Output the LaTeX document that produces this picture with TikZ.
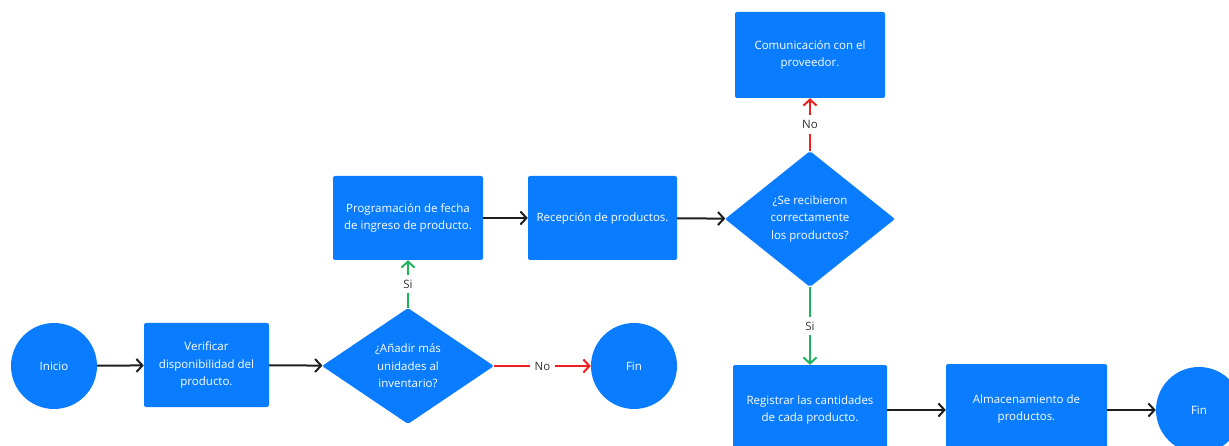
\documentclass[tikz,border=0pt]{standalone}
\usepackage{fontspec}
\setmainfont{Open Sans}
\usetikzlibrary{shapes.geometric,arrows.meta}
\definecolor{azul}{HTML}{0A7CFF}
\definecolor{rojo}{HTML}{F01E1E}
\definecolor{verde}{HTML}{1DB35C}
\definecolor{negro}{HTML}{1E1E1E}
\definecolor{gris}{HTML}{333333}
\tikzset{
	caja/.style={rectangle, fill=azul, rounded corners=2pt, text=white, align=center, inner sep=0pt, font=\fontsize{11.5}{17.5}\selectfont},
	rombo/.style={diamond, fill=azul, rounded corners=2pt, text=white, align=center, inner sep=0pt, minimum width=172, minimum height=116, font=\fontsize{11.5}{17.5}\selectfont},
	circulo/.style={circle, fill=azul, text=white, minimum size=86, inner sep=0pt, font=\fontsize{11.5}{17.5}\selectfont},
	flecha/.style={line width=2pt, draw=#1, -{Straight Barb[length=6pt,width=13pt]}},
	flecha/.default=negro,
	etiqueta/.style={fill=white, text=gris, inner sep=5pt, font=\fontsize{11.5}{14}\selectfont}
}
\begin{document}
\begin{tikzpicture}[x=1pt,y=-1pt]
	\useasboundingbox (0,0) rectangle (1229,446);
	
	\node[circulo] (inicio) at (54,366) {Inicio};
	\node[caja, minimum width=125, minimum height=84] (verificar) at (206.5,365) {Verificar\\disponibilidad del\\producto.};
	\node[rombo] (anadir) at (408,366) {¿Añadir más\\unidades al\\inventario?};
	\node[circulo] (fin1) at (634,366) {Fin};
	
	\node[caja, minimum width=150, minimum height=84] (programacion) at (408,218) {Programación de fecha\\de ingreso de producto.};
	\node[caja, minimum width=149, minimum height=84] (recepcion) at (602.5,218) {Recepción de productos.};
	\node[rombo, minimum width=170, minimum height=136] (recibieron) at (810,219) {¿Se recibieron\\correctamente\\los productos?};
	\node[caja, minimum width=150, minimum height=86] (comunicacion) at (810,55) {Comunicación con el\\proveedor.};
	
	\node[caja, minimum width=154, minimum height=90] (registrar) at (810,410) {Registrar las cantidades\\de cada producto.};
	\node[caja, minimum width=161, minimum height=90] (almacenamiento) at (1026.5,409) {Almacenamiento de\\productos.};
	\node[circulo] (fin2) at (1199,410) {Fin};
	
	\draw[flecha] (inicio) -- (verificar);
	\draw[flecha] (verificar) -- (anadir);
	\draw[flecha=rojo] (anadir) -- node[etiqueta] {No} (fin1);
	\draw[flecha=verde] (anadir) -- node[etiqueta] {Si} (programacion);
	\draw[flecha] (programacion) -- (recepcion);
	\draw[flecha] (recepcion) -- (recibieron);
	\draw[flecha=rojo] (recibieron) -- node[etiqueta] {No} (comunicacion);
	\draw[flecha=verde] (recibieron) -- node[etiqueta] {Si} (registrar);
	\draw[flecha] (registrar.east |- 0,410) -- (almacenamiento.west |- 0,410);
	\draw[flecha] (almacenamiento.east |- 0,410) -- (fin2);
\end{tikzpicture}
\end{document}
